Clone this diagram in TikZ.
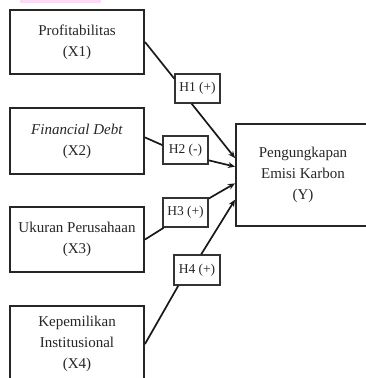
\documentclass[tikz,border=0pt]{standalone}
\usepackage{fontspec}
\setmainfont{Liberation Serif}
\usetikzlibrary{arrows.meta}
\definecolor{pinkbar}{RGB}{250,218,245}
\tikzset{
  varbox/.style={draw=black!85, line width=2pt, minimum width=134pt, align=center, inner sep=0pt,
    font=\fontsize{15}{21}\selectfont, text=black!85},
  hypbox/.style={draw=black!80, line width=1.4pt, minimum width=45pt, minimum height=28pt, inner sep=0pt,
    font=\fontsize{13.5}{16}\selectfont, fill=white, text=black!85},
  link/.style={line width=1.7pt, draw=black!90},
  arr/.style={link, -{Stealth[length=7pt,width=6pt]}}
}
\begin{document}
\begin{tikzpicture}[x=1pt,y=-1pt]
\useasboundingbox (0,0) rectangle (366,378);
\clip (0,0) rectangle (366,378);
\fill[white] (0,0) rectangle (366,378);
\fill[pinkbar] (20,0) rectangle (101,3);
\node[varbox, minimum height=64pt] (X1) at (77,42) {Profitabilitas\\(X1)};
\node[varbox, minimum height=66pt] (X2) at (77,141) {\textit{Financial Debt}\\(X2)};
\node[varbox, minimum height=65pt] (X3) at (77,239.5) {Ukuran Perusahaan\\(X3)};
\node[varbox, minimum height=76pt] (X4) at (77,344) {Kepemilikan\\Institusional\\(X4)};
\node[varbox, minimum height=102pt] (Y) at (303,175) {Pengungkapan\\Emisi Karbon\\(Y)};
\node[hypbox, minimum height=29pt] (H1) at (197.5,88.5) {H1 (+)};
\node[hypbox] (H2) at (185.5,150) {H2 (-)};
\node[hypbox, minimum height=29pt] (H3) at (185.5,212.5) {H3 (+)};
\node[hypbox, minimum width=46pt, minimum height=30pt] (H4) at (197,270) {H4 (+)};
\draw[link] (X1.east) -- (H1.157);
\draw[arr] (H1.-111) -- (Y.166);
\draw[link] (X2.3) -- (H2.168);
\draw[arr] (H2.-24) -- (Y.173);
\draw[link] (X3.east) -- (H3.215);
\draw[arr] (H3.31) -- (Y.187);
\draw[link] (X4.east) -- (H4.220);
\draw[arr] (H4.75) -- (Y.200);
\end{tikzpicture}
\end{document}
